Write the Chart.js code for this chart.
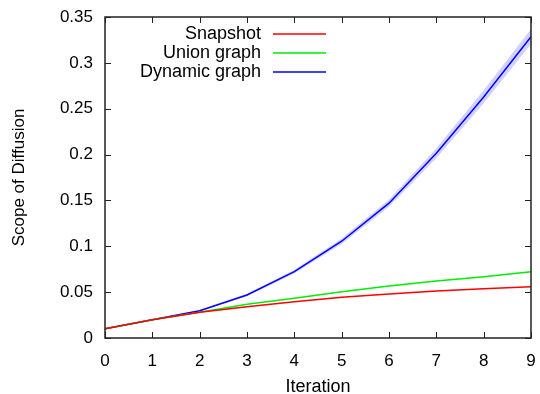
<!DOCTYPE html>
<html>
<head>
<meta charset="utf-8">
<script src="https://cdn.jsdelivr.net/npm/chart.js@4/dist/chart.umd.min.js"></script>
<style>
  html, body { margin: 0; padding: 0; background: #fff; }
  #wrap { width: 540px; height: 394px; }
</style>
</head>
<body>
<div id="wrap"><canvas id="chart" width="540" height="394"></canvas></div>
<script>
"use strict";

// data
const iterations = [0, 1, 2, 3, 4, 5, 6, 7, 8, 9];
const snapshot = [0.010, 0.020, 0.028, 0.034, 0.0396, 0.0444, 0.048, 0.0512, 0.0538, 0.0558];
const unionGraph = [0.010, 0.020, 0.028, 0.0367, 0.0433, 0.0503, 0.0567, 0.0622, 0.0669, 0.0723];
const dynamicGraph = [0.010, 0.020, 0.0298, 0.0469, 0.0723, 0.1055, 0.147, 0.2015, 0.2628, 0.3285];
const dynamicLow = [0.0098, 0.0195, 0.0290, 0.0455, 0.0702, 0.1025, 0.1430, 0.1960, 0.2560, 0.3205];
const dynamicHigh = [0.0102, 0.0205, 0.0306, 0.0483, 0.0744, 0.1085, 0.1510, 0.2070, 0.2700, 0.3370];
const yTicks = [0, 0.05, 0.1, 0.15, 0.2, 0.25, 0.3, 0.35];

const FONT = "'Liberation Sans', Arial, sans-serif";

function pts(ys) {
    return iterations.map((x, i) => ({ x: x, y: ys[i] }));
}

// gnuplot style frame with inward ticks on all four sides, and the key
const framePlugin = {
    id: 'frame',
    afterDatasetsDraw(chart) {
        const ctx = chart.ctx;
        const a = chart.chartArea;
        const xs = chart.scales.x;
        const ys = chart.scales.y;
        ctx.save();
        ctx.strokeStyle = '#222';
        ctx.lineWidth = 1;
        const tl = 6;
        ctx.beginPath();
        iterations.forEach(v => {
            const px = Math.round(xs.getPixelForValue(v)) + 0.5;
            ctx.moveTo(px, a.bottom); ctx.lineTo(px, a.bottom - tl);
            ctx.moveTo(px, a.top); ctx.lineTo(px, a.top + tl);
        });
        yTicks.forEach(v => {
            const py = Math.round(ys.getPixelForValue(v)) + 0.5;
            ctx.moveTo(a.left, py); ctx.lineTo(a.left + tl, py);
            ctx.moveTo(a.right, py); ctx.lineTo(a.right - tl, py);
        });
        ctx.stroke();
        ctx.lineWidth = 1.5;
        ctx.strokeRect(a.left, a.top, a.right - a.left, a.bottom - a.top);

        // key: text right aligned, line sample after it
        ctx.font = '18px ' + FONT;
        ctx.textAlign = 'right';
        ctx.textBaseline = 'middle';
        const keys = chart.data.datasets.filter(d => d.inKey);
        keys.forEach((d, i) => {
            const y = 34 + i * 19;
            ctx.fillStyle = '#000';
            ctx.fillText(d.label, 261, y);
            ctx.strokeStyle = d.borderColor;
            ctx.lineWidth = 1.5;
            ctx.beginPath();
            ctx.moveTo(273, y); ctx.lineTo(326, y);
            ctx.stroke();
        });
        ctx.restore();
    }
};

const chart = new Chart(document.getElementById('chart'), {
    type: 'line',
    data: {
        datasets: [
            {
                label: 'band low', data: pts(dynamicLow),
                borderWidth: 0, pointRadius: 0, fill: false,
                backgroundColor: 'rgba(0,0,255,0.18)', order: 5
            },
            {
                label: 'band high', data: pts(dynamicHigh),
                borderWidth: 0, pointRadius: 0, fill: '-1',
                backgroundColor: 'rgba(0,0,255,0.18)', order: 5
            },
            {
                label: 'Snapshot', data: pts(snapshot), inKey: true,
                borderColor: '#ff0000', borderWidth: 1.5, pointRadius: 0, fill: false
            },
            {
                label: 'Union graph', data: pts(unionGraph), inKey: true,
                borderColor: '#00ee00', borderWidth: 1.5, pointRadius: 0, fill: false
            },
            {
                label: 'Dynamic graph', data: pts(dynamicGraph), inKey: true,
                borderColor: '#0000ff', borderWidth: 1.5, pointRadius: 0, fill: false
            }
        ]
    },
    options: {
        responsive: false,
        animation: false,
        layout: { padding: { top: 17, right: 9, left: 9, bottom: 0 } },
        plugins: { legend: { display: false }, tooltip: { enabled: false } },
        scales: {
            x: {
                type: 'linear', min: 0, max: 9,
                afterBuildTicks: s => { s.ticks = iterations.map(v => ({ value: v })); },
                afterFit: s => { s.height = 56; s.paddingLeft = 0; s.paddingRight = 0; },
                grid: { display: false, drawTicks: false },
                border: { display: false },
                ticks: { color: '#000', padding: 13, maxRotation: 0, font: { family: FONT, size: 17 } },
                title: { display: true, text: 'Iteration', color: '#000', padding: { top: 0, bottom: -4 }, font: { family: FONT, size: 18 } }
            },
            y: {
                type: 'linear', min: 0, max: 0.35,
                afterBuildTicks: s => { s.ticks = yTicks.map(v => ({ value: v })); },
                afterFit: s => { s.width = 96; s.paddingTop = 0; s.paddingBottom = 0; },
                grid: { display: false, drawTicks: false },
                border: { display: false },
                ticks: {
                    color: '#000', padding: 12, font: { family: FONT, size: 17 },
                    callback: v => String(Math.round(v * 100) / 100)
                },
                title: { display: true, text: 'Scope of Diffusion', color: '#000', padding: 0, font: { family: FONT, size: 17 } }
            }
        }
    },
    plugins: [framePlugin]
});
</script>
</body>
</html>
